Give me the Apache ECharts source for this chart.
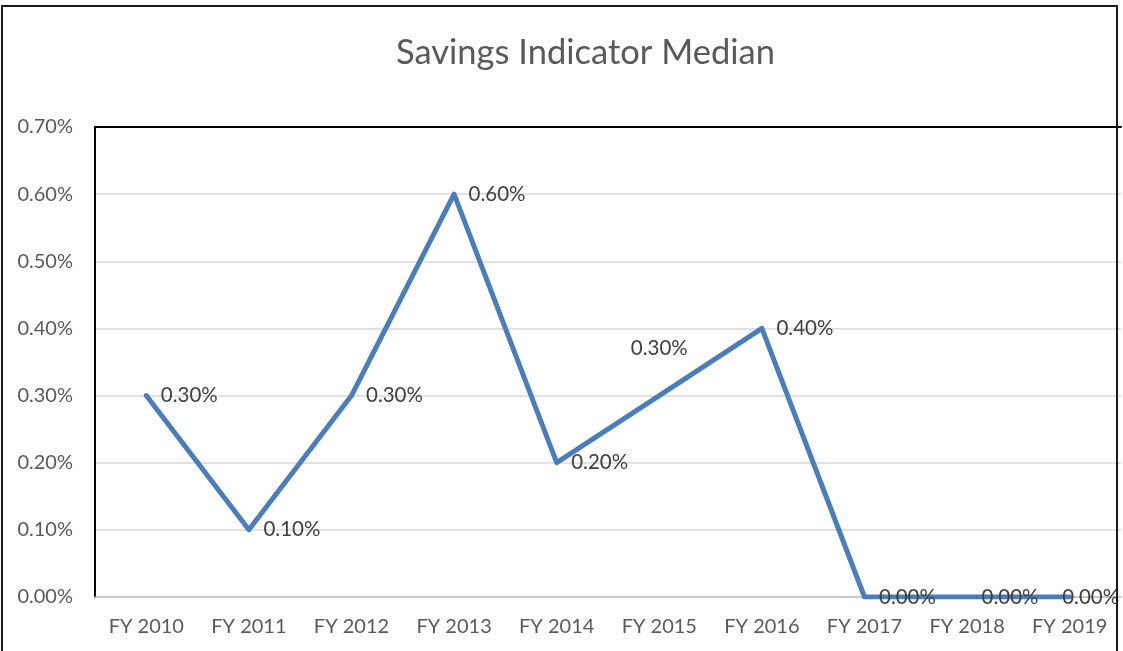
<!DOCTYPE html>
<html>
<head>
<meta charset="utf-8">
<script src="https://cdn.jsdelivr.net/npm/echarts@6/dist/echarts.min.js"></script>
<style>
  html, body { margin:0; padding:0; background:#fff; overflow:hidden; }
  #chart { position:absolute; left:0; top:0; width:1123px; height:651px; }
  #frame { position:absolute; left:1px; top:5px; width:1117px; height:700px; border:2px solid #1a1a1a; pointer-events:none; box-sizing:border-box; }
</style>
</head>
<body>
<div id="chart"></div>
<div id="frame"></div>
<script>
const title = 'Savings Indicator Median';
const categories = ['FY 2010','FY 2011','FY 2012','FY 2013','FY 2014','FY 2015','FY 2016','FY 2017','FY 2018','FY 2019'];
const values = [0.30, 0.10, 0.30, 0.60, 0.20, 0.30, 0.40, 0.00, 0.00, 0.00]; // percent
const yTicks = [0, 0.1, 0.2, 0.3, 0.4, 0.5, 0.6, 0.7];

const FONT = 'Lato, "Open Sans", sans-serif';
const fmt = v => Number(v).toFixed(2) + '%';

const seriesData = values.map((v, i) => {
  const item = { value: v };
  if (i === 5) item.label = { position: 'top', distance: 36 };
  if (i === categories.length - 1) item.label = { offset: [-22, 0] };
  return item;
});

const chart = echarts.init(document.getElementById('chart'), null, { renderer: 'canvas' });
chart.setOption({
  animation: false,
  backgroundColor: '#ffffff',
  title: {
    text: title, left: 391, top: 30,
    textStyle: { fontFamily: FONT, fontSize: 34.5, fontWeight: 'normal', color: '#595959' }
  },
  grid: { left: 95, right: 2, top: 127, bottom: 54, containLabel: false },
  xAxis: [{
    type: 'category', data: categories, boundaryGap: true, position: 'bottom',
    axisLine: { show: true, lineStyle: { color: '#bfbfbf', width: 1.5 } },
    axisTick: { show: false },
    axisLabel: { fontFamily: FONT, fontSize: 20, color: '#595959', margin: 20 }
  }, {
    type: 'category', data: categories, boundaryGap: true, position: 'top',
    axisLine: { show: true, onZero: false, lineStyle: { color: '#000', width: 2 } },
    axisTick: { show: false }, axisLabel: { show: false }
  }],
  yAxis: {
    type: 'value', min: yTicks[0], max: yTicks[yTicks.length - 1], interval: 0.1,
    axisLine: { show: true, lineStyle: { color: '#000', width: 2 } },
    axisTick: { show: false },
    axisLabel: { fontFamily: FONT, fontSize: 20, color: '#595959', margin: 22, formatter: fmt },
    splitLine: { show: true, lineStyle: { color: '#d9d9d9', width: 1.5 } }
  },
  series: [{
    type: 'line', data: seriesData, xAxisIndex: 0,
    showSymbol: true, symbol: 'circle', symbolSize: 1,
    lineStyle: { color: '#4a7ebb', width: 5, cap: 'round', join: 'round' },
    itemStyle: { color: '#4a7ebb' },
    label: { show: true, position: 'right', distance: 14, formatter: p => fmt(p.value),
             fontFamily: FONT, fontSize: 20.5, color: '#404040' },
    z: 3
  }]
});
</script>
</body>
</html>
